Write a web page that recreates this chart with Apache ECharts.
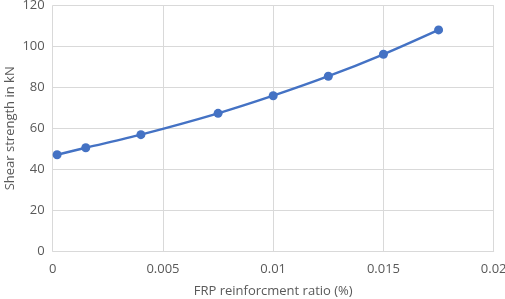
<!DOCTYPE html>
<html>
<head>
<meta charset="utf-8">
<script src="https://cdn.jsdelivr.net/npm/echarts@6/dist/echarts.min.js"></script>
<style>html,body{margin:0;padding:0;background:#fff;}#c{width:505px;height:299px;}</style>
</head>
<body>
<div id="c"></div>
<script>
var ratios = [0.0002, 0.0015, 0.004, 0.0075, 0.01, 0.0125, 0.015, 0.0175];
var strength = [47.1, 50.5, 56.9, 67.3, 75.9, 85.4, 96.1, 108.0];
var xTitle = 'FRP reinforcment ratio (%)';
var yTitle = 'Shear strength in kN';

var chart = echarts.init(document.getElementById('c'), null, {renderer: 'canvas'});
var font = 'Open Sans';
chart.setOption({
  animation: false,
  grid: {left: 52.7, right: 11.3, top: 5.3, bottom: 47.7, containLabel: false, outerBoundsMode: 'none'},
  xAxis: {
    type: 'value', min: 0, max: 0.02, interval: 0.005,
    name: xTitle, nameLocation: 'middle', nameGap: 33,
    nameTextStyle: {color: '#595959', fontSize: 13, fontFamily: font},
    axisLine: {show: true, lineStyle: {color: '#d9d9d9'}},
    axisTick: {show: false},
    splitLine: {show: true, lineStyle: {color: '#d9d9d9'}},
    axisLabel: {color: '#595959', fontSize: 13, fontFamily: font, margin: 11,
      formatter: function(v){ return String(+v.toFixed(4)); }}
  },
  yAxis: {
    type: 'value', min: 0, max: 120, interval: 20,
    name: yTitle, nameLocation: 'middle', nameGap: 36, nameMoveOverlap: false,
    nameTextStyle: {color: '#595959', fontSize: 13, fontFamily: font},
    axisLine: {show: false},
    axisTick: {show: false},
    splitLine: {show: true, lineStyle: {color: '#d9d9d9'}},
    axisLabel: {color: '#595959', fontSize: 13, fontFamily: font, margin: 8}
  },
  series: [{
    type: 'line',
    data: ratios.map(function(x, i){ return [x, strength[i]]; }),
    smooth: 0.3,
    symbol: 'circle', symbolSize: 9,
    lineStyle: {color: '#4472C4', width: 2.4},
    itemStyle: {color: '#4472C4'}
  }]
});
</script>
</body>
</html>
